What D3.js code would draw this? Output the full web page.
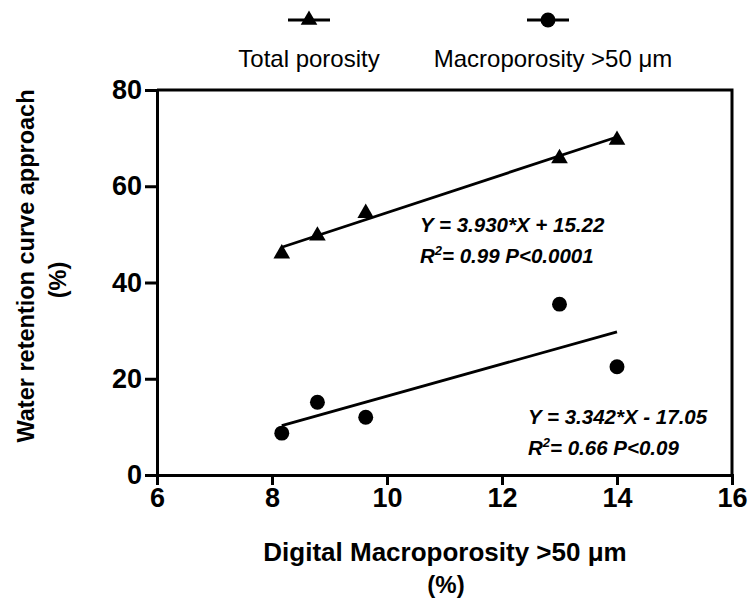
<!DOCTYPE html>
<html>
<head>
<meta charset="utf-8">
<script src="https://cdn.jsdelivr.net/npm/d3@7/dist/d3.min.js"></script>
<style>
  body { margin: 0; background: #fff; }
  svg { font-family: Arial, "Liberation Sans", Helvetica, sans-serif; }
</style>
</head>
<body>
<svg width="752" height="599"></svg>
<script>
// data
var xValues = [8.17, 8.79, 9.63, 13.0, 14.0];
var totalPorosity = [46, 49.7, 54.4, 65.8, 69.6];
var macroPorosity = [8.7, 15.1, 12.0, 35.5, 22.5];
var slopes = [3.930, 3.342];
var intercepts = [15.22, -17.05];
var eqLabels = ["Y = 3.930*X + 15.22", "Y = 3.342*X - 17.05"];
var statLabels = ["= 0.99 P<0.0001", "= 0.66 P<0.09"];
var seriesNames = ["Total porosity", "Macroporosity >50 \u03bcm"];
var xTicks = [6, 8, 10, 12, 14, 16];
var yTicks = [0, 20, 40, 60, 80];

var svg = d3.select("svg");
var x = d3.scaleLinear().domain([6, 16]).range([157, 732]);
var y = d3.scaleLinear().domain([0, 80]).range([475, 90]);

// frame (top + right)
svg.append("path")
    .attr("d", "M" + x(6) + "," + y(80) + "H" + x(16) + "V" + y(0))
    .attr("fill", "none")
    .attr("stroke", "#000")
    .attr("stroke-width", 3);

var yAxis = svg.append("g")
    .attr("transform", "translate(" + x(6) + ",0)")
    .call(d3.axisLeft(y).tickValues(yTicks).tickSize(12).tickSizeOuter(0).tickPadding(3));
var xAxis = svg.append("g")
    .attr("transform", "translate(0," + y(0) + ")")
    .call(d3.axisBottom(x).tickValues(xTicks).tickSize(10).tickSizeOuter(0).tickPadding(3));

[yAxis, xAxis].forEach(function(a) {
  a.attr("font-size", 27).attr("font-weight", "bold")
   .attr("font-family", "Arial, 'Liberation Sans', sans-serif");
  a.select(".domain").attr("stroke-width", 3).attr("stroke-linecap", "square");
  a.selectAll(".tick line").attr("stroke-width", 3);
  a.selectAll(".tick text").attr("fill", "#000");
});

// regression lines
var fitLines = slopes.map(function(s, i) {
  var x0 = d3.min(xValues), x1 = d3.max(xValues);
  return [[x0, s * x0 + intercepts[i]], [x1, s * x1 + intercepts[i]]];
});
svg.selectAll(".fit")
    .data(fitLines)
    .enter()
  .append("path")
    .attr("class", "fit")
    .attr("d", d3.line().x(function(d) { return x(d[0]); }).y(function(d) { return y(d[1]); }))
    .attr("stroke", "#000")
    .attr("stroke-width", 2.8)
    .attr("fill", "none");

var tri = d3.symbol().type(d3.symbolTriangle).size(120);
var circ = d3.symbol().type(d3.symbolCircle).size(175);

svg.selectAll(".tri")
    .data(xValues)
    .enter()
  .append("path")
    .attr("class", "tri")
    .attr("transform", function(d, i) { return "translate(" + x(d) + "," + y(totalPorosity[i]) + ")"; })
    .attr("d", tri)
    .attr("fill", "#000");

svg.selectAll(".dot")
    .data(xValues)
    .enter()
  .append("path")
    .attr("class", "dot")
    .attr("transform", function(d, i) { return "translate(" + x(d) + "," + y(macroPorosity[i]) + ")"; })
    .attr("d", circ)
    .attr("fill", "#000");

// equations
var eqPos = [[420, 232], [528, 424]];
eqLabels.forEach(function(t, i) {
  svg.append("text")
      .attr("x", eqPos[i][0])
      .attr("y", eqPos[i][1])
      .style("font-size", "20.5px")
      .style("font-weight", "bold")
      .style("font-style", "italic")
      .text(t);
  var r = svg.append("text")
      .attr("x", eqPos[i][0])
      .attr("y", eqPos[i][1] + 31)
      .style("font-size", "20.5px")
      .style("font-weight", "bold")
      .style("font-style", "italic");
  r.append("tspan").text("R");
  r.append("tspan").attr("dy", -8).style("font-size", "13px").text("2");
  r.append("tspan").attr("dy", 8).text(statLabels[i]);
});

// legend
var legX = [309, 548];
var legend = svg.selectAll(".leg")
    .data(seriesNames)
    .enter()
  .append("g")
    .attr("class", "leg")
    .attr("transform", function(d, i) { return "translate(" + legX[i] + ",0)"; });
legend.append("line")
    .attr("x1", -21).attr("x2", 21)
    .attr("y1", 20).attr("y2", 20)
    .attr("stroke", "#000")
    .attr("stroke-width", 3);
legend.append("path")
    .attr("transform", "translate(0,20)")
    .attr("d", function(d, i) { return i === 0 ? tri() : circ(); })
    .attr("fill", "#000");
legend.append("text")
    .attr("x", function(d, i) { return i === 0 ? 0 : 5; })
    .attr("y", 67)
    .attr("text-anchor", "middle")
    .style("font-size", "24px")
    .text(function(d) { return d; });

// axis titles (two separate lines)
var xTitle = ["Digital Macroporosity >50 \u03bcm", "(%)"];
svg.selectAll(".xt")
    .data(xTitle)
    .enter()
  .append("text")
    .attr("class", "xt")
    .attr("x", function(d, i) { return i === 0 ? 445 : 446; })
    .attr("y", function(d, i) { return i === 0 ? 561 : 593; })
    .attr("text-anchor", "middle")
    .style("font-size", function(d, i) { return i === 0 ? "26px" : "24px"; })
    .style("font-weight", "bold")
    .text(function(d) { return d; });

var yTitle = ["Water retention curve approach", "(%)"];
svg.selectAll(".yt")
    .data(yTitle)
    .enter()
  .append("text")
    .attr("class", "yt")
    .attr("transform", "rotate(-90)")
    .attr("x", function(d, i) { return i === 0 ? -266 : -280; })
    .attr("y", function(d, i) { return i === 0 ? 34 : 66; })
    .attr("text-anchor", "middle")
    .style("font-size", "23.5px")
    .style("font-weight", "bold")
    .text(function(d) { return d; });
</script>
</body>
</html>
